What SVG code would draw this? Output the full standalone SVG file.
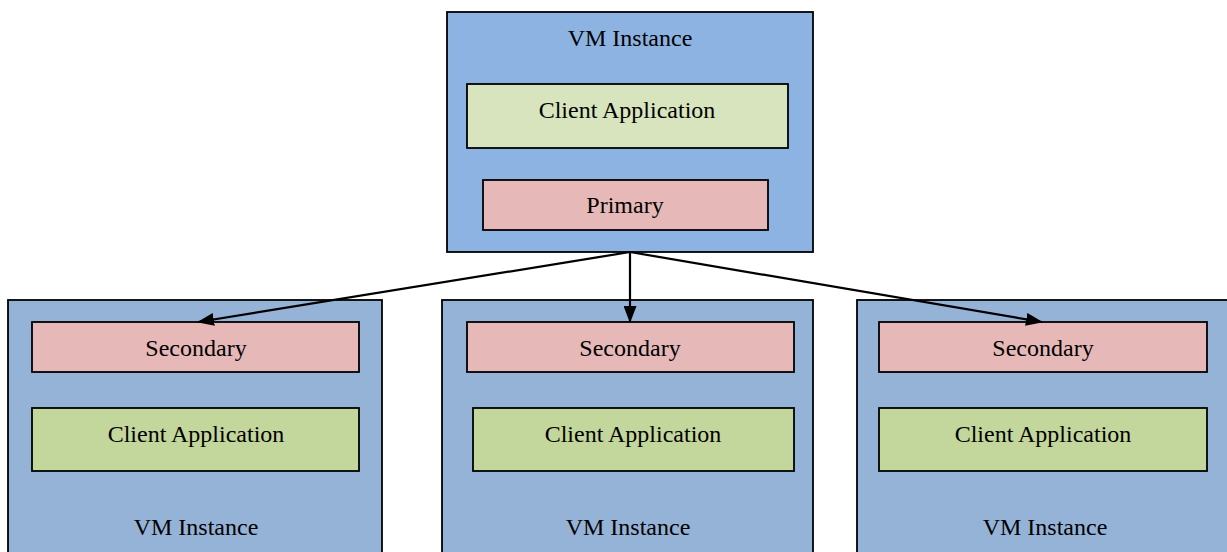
<svg xmlns="http://www.w3.org/2000/svg" width="1227" height="552" viewBox="0 0 1227 552">
  <style>
    .vm-top { fill: #8DB3E2; stroke: #000; stroke-width: 1.8; }
    .vm { fill: #95B3D7; stroke: #000; stroke-width: 1.8; }
    .app-top { fill: #D7E4BD; stroke: #000; stroke-width: 1.8; }
    .app { fill: #C3D69B; stroke: #000; stroke-width: 1.8; }
    .db { fill: #E6B9B8; stroke: #000; stroke-width: 1.8; }
    text { font-family: "Liberation Serif", "Times New Roman", serif; font-size: 24px; fill: #000; text-anchor: middle; }
    .link { stroke: #000; stroke-width: 2.2; fill: none; marker-end: url(#arrow); }
  </style>
  <defs>
    <marker id="arrow" markerWidth="17" markerHeight="13" refX="16" refY="6.5" orient="auto" markerUnits="userSpaceOnUse">
      <path d="M0,0 L17,6.5 L0,13 Z" fill="#000"/>
    </marker>
  </defs>
  <rect width="1227" height="552" fill="#fff"/>

  <!-- primary VM -->
  <g id="vm-primary">
    <rect class="vm-top" x="447" y="12" width="366" height="240"/>
    <text x="630" y="46">VM Instance</text>
    <g id="app-primary">
      <rect class="app-top" x="467" y="84" width="321" height="64"/>
      <text x="627" y="118">Client Application</text>
    </g>
    <g id="db-primary">
      <rect class="db" x="483" y="180" width="285" height="50"/>
      <text x="625" y="213">Primary</text>
    </g>
  </g>

  <!-- secondary VMs -->
  <g id="vm-left">
    <rect class="vm" x="8" y="300" width="374" height="260"/>
    <g id="db-left">
      <rect class="db" x="32" y="322" width="327" height="50"/>
      <text x="196" y="356">Secondary</text>
    </g>
    <g id="app-left">
      <rect class="app" x="32" y="408" width="327" height="63"/>
      <text x="196" y="442">Client Application</text>
    </g>
    <text x="196" y="535">VM Instance</text>
  </g>

  <g id="vm-middle">
    <rect class="vm" x="442" y="300" width="371" height="260"/>
    <g id="db-middle">
      <rect class="db" x="467" y="322" width="327" height="50"/>
      <text x="630" y="356">Secondary</text>
    </g>
    <g id="app-middle">
      <rect class="app" x="473" y="408" width="321" height="63"/>
      <text x="633" y="442">Client Application</text>
    </g>
    <text x="628" y="535">VM Instance</text>
  </g>

  <g id="vm-right">
    <rect class="vm" x="857" y="300" width="380" height="260"/>
    <g id="db-right">
      <rect class="db" x="879" y="322" width="328" height="50"/>
      <text x="1043" y="356">Secondary</text>
    </g>
    <g id="app-right">
      <rect class="app" x="879" y="408" width="328" height="63"/>
      <text x="1043" y="442">Client Application</text>
    </g>
    <text x="1045" y="535">VM Instance</text>
  </g>

  <!-- replication links -->
  <g id="connectors">
    <line class="link" x1="630" y1="252" x2="198" y2="322"/>
    <line class="link" x1="630" y1="252" x2="630" y2="322"/>
    <line class="link" x1="630" y1="252" x2="1042" y2="322"/>
  </g>
</svg>
